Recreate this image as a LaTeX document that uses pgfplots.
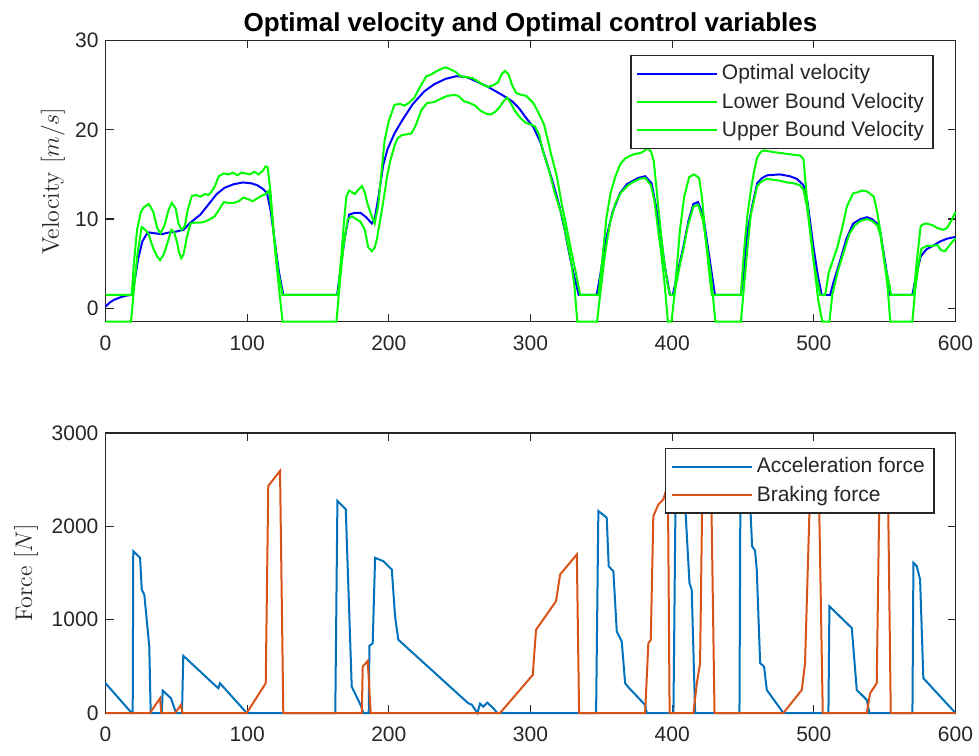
\documentclass[border=0pt]{standalone}
\usepackage[no-math]{fontspec}
\setmainfont{Liberation Sans}
\newfontfamily\lmr{Latin Modern Roman}
\usepackage{pgfplots}
\pgfplotsset{compat=1.18}

\definecolor{mblue}{rgb}{0,0.447,0.741}
\definecolor{morange}{rgb}{0.85,0.325,0.098}
\definecolor{axgray}{rgb}{0.15,0.15,0.15}

\pgfplotsset{
 myaxis/.style={
  scale only axis, width=425pt, xmin=0, xmax=600, xtick={0,100,...,600},
  tick align=inside, major tick length=4pt,
  axis line style={axgray, line width=0.6pt}, tick style={axgray, line width=0.6pt},
  ticklabel style={font=\fontsize{10.5}{12}\selectfont, text=axgray},
  xticklabel style={yshift=-3.5pt},
  /pgf/number format/assume math mode=true,
  /pgf/number format/1000 sep={},
  scaled y ticks=false,
  clip=false,
  legend cell align=left,
  legend image code/.code={\draw[##1] (0pt,0pt) -- (40pt,0pt);},
  legend style={draw=axgray, line width=0.6pt, fill=white, font=\fontsize{10.5}{12}\selectfont, text=black!85, inner xsep=2.5pt, inner ysep=2.5pt, row sep=1pt, anchor=north east},
  ylabel style={font=\lmr\fontsize{12}{14}\selectfont, text=axgray, anchor=center},
 }
}

\begin{document}
\begin{tikzpicture}
\useasboundingbox (0,0) rectangle (489.5pt,-377.5pt);

\begin{axis}[myaxis, at={(52.75pt,-160.85pt)}, anchor=south west, height=140.6pt,
  ymin=-1.5, ymax=30, ytick={0,10,20,30},
  title={Optimal velocity and Optimal control variables},
  title style={font=\bfseries\fontsize{13}{15}\selectfont, at={(axis description cs:0.5,1)}, anchor=base, yshift=-1.75pt},
  ylabel={Velocity $[m/s]$},
  ylabel style={at={(axis description cs:-0.0618,0.5)}},
  legend style={at={(axis description cs:1,1)}, xshift=-11pt, yshift=-7.25pt},
]
\addplot[blue, line width=1pt] coordinates {
(0,0.2) (3,0.65) (6,0.95) (10,1.2) (14,1.4) (18.5,1.5) (20.5,3.0) (23,5.5) (26,7.5) (29,8.3) (30.5,8.5) (35,8.4) (39.5,8.3) (45,8.5) (50,8.6) (55,8.8) (60,9.6) (67,10.5) (73,11.7) (78.5,12.8) (84,13.5) (90.5,13.9) (97,14.1) (103,14.0) (107,13.8) (111,13.4) (114,12.9) (116.5,11.0) (119.5,7.5) (122.5,4.0) (125.5,1.5)
(163.5,1.5) (166,4.5) (169,8) (172,10.5) (176,10.7) (180,10.7) (184,10.2) (188,9.5) (190,10.0) (193,12.8) (196,16.0) (199,17.8) (204,19.6) (210,21.2) (217,22.9) (225,24.3) (232,25.1) (240,25.7) (247.5,26.0) (255,25.9) (263.5,25.3) (270,24.8) (280,23.9) (287,23.2) (292,22.4) (297,21.3) (302,20.3) (307,18.6) (311.5,16.3) (316,14.0) (320.5,11.4) (324.5,8.5) (328,5.6) (331,3.5) (334,1.5)
(346.7,1.5) (349,3.5) (353.6,8.0) (358,10.8) (363.2,12.9) (368,13.9) (372.5,14.3) (376,14.6) (380.9,14.8) (385.5,14.0) (388.5,11.5) (391.4,8.8) (395,4.5) (398.4,1.5) (400.5,1.5) (403.5,3.8) (407.9,6.9) (411.5,9.8) (415,11.7) (418.3,11.9) (422,10.3) (426,6.0) (430.2,1.5)
(448.5,1.5) (451,4.5) (453,8.5) (456.5,11.5) (460,14.0) (463.5,14.6) (467,14.9) (476,15.0) (483,14.8) (488,14.5) (492.7,13.8) (495.5,12.0) (499.7,6.9) (503,3.5) (505.6,1.5) (511.5,1.5) (514,3.0) (518.7,5.4) (523,7.8) (527.8,9.5) (533,10.0) (537.5,10.2) (541,10.0) (544.7,9.5) (547,8.5) (550,5.5) (554,1.5)
(569.5,1.5) (572,3.5) (575.4,5.8) (579.4,6.6) (584,7.0) (589.3,7.5) (594,7.8) (600,8.0)};
\addlegendentry{Optimal velocity}
\addplot[green, line width=1pt] coordinates {
(0,-1.5) (18,-1.5) (20,2) (22.5,6) (25.5,9.1) (28,8.8) (30.5,8.3) (32,7.5) (34,6.6) (36.5,5.8) (38.5,5.4) (41,6) (43.5,7.2) (46.5,8.8) (48.5,8.5) (50.5,7.4) (52,6.2) (53.5,5.6) (55,6) (57.5,8.0) (60,9.5) (63,9.6) (67,9.6) (70,9.7) (74,10.0) (77,10.3) (80,11.0) (83.5,11.9) (87,11.8) (90.5,11.8) (94,12.0) (97.5,12.4) (101,12.2) (104,12.0) (107,12.3) (110,12.6) (113,12.8) (115.5,13.2) (117.5,10.5) (120,6) (123,1.5) (125,-1.5)
(163,-1.5) (165.5,3) (168,7) (171,10.0) (174,10.3) (177,10.0) (180,9.7) (183,8.8) (185.5,6.8) (188,6.4) (190,6.8) (191.5,7.7) (194,10) (196.5,12.4) (199,15) (201,16.5) (204,18.2) (206,19.0) (209,19.4) (213,19.5) (216,19.6) (219,20.5) (223,22.2) (227,23.0) (232,23.1) (237,23.5) (241.5,23.8) (246,23.9) (249,23.8) (253,23.2) (257,23.0) (261,22.7) (265,22.1) (269,21.8) (272,21.7) (275,22.0) (278,22.5) (281,23.2) (283.5,23.6) (286,23.0) (289,22.1) (293,21.3) (296.5,20.8) (300,20.6) (303,20.4) (306,19.5) (309,17.5) (313,15.5) (317,13) (322.5,10.2) (326.5,7.0) (328.5,5.4) (331,2.5) (333,-1.5)
(347,-1.5) (349.5,2) (352.5,6) (356,9.5) (360,11.8) (364,13.0) (369,13.8) (373,14.2) (377,14.5) (381,14.6) (385,13.8) (387.5,12.0) (389.5,9.5) (392,6.5) (394.5,3) (397,-1.5) (399.5,-1.5) (402,2) (405,4.5) (408,6.7) (411,9.2) (415,11.4) (418.3,11.6) (421.5,10.0) (424.5,7) (427.5,3.5) (430.5,-1.5)
(448.5,-1.5) (451,3) (453,6.5) (455.5,10.5) (460,13.7) (463,14.2) (467,14.5) (471,14.4) (476,14.3) (481,14.1) (486,14.0) (490,13.8) (492.7,13.3) (495,11.5) (498,8) (500.5,4.5) (503,1) (506,-1.5) (511,-1.5) (513,1.5) (517,4.2) (521.5,6.5) (525,8.3) (529,9.3) (533,9.8) (537.5,10.0) (541,9.8) (544.7,9.3) (547,8.2) (550,5.0) (552,2.5) (554,-1.5)
(569.5,-1.5) (571.5,2.0) (574,5.0) (576,6.7) (580,7.0) (584,7.0) (587,7.1) (590,6.5) (592.5,6.4) (595,6.9) (598,7.5) (600,7.8)};
\addlegendentry{Lower Bound Velocity}
\addplot[green, line width=1pt] coordinates {
(0,1.5) (18.5,1.5) (20,5) (22.3,8.8) (25,10.8) (27,11.3) (30.5,11.7) (33.8,10.8) (36.5,9) (38.8,8.4) (41.5,9.2) (44.5,11) (46.8,11.8) (49.5,11.2) (51.5,9.5) (53.7,8.8) (56,9.2) (58,11) (61,12.6) (64,12.7) (67,12.5) (70,12.8) (72.5,12.7) (74,12.9) (77,13.6) (80,14.8) (83.5,15.1) (87,15.0) (90,15.2) (93,14.9) (96,15.2) (99,15.1) (102,15.0) (105,15.3) (108,15.0) (111,15.4) (113,15.9) (114.5,15.8) (116.5,13) (119,8) (122,4) (125,1.5)
(164,1.5) (166.5,6) (168.5,10) (170,12.5) (172,13.2) (174,13.0) (176,12.8) (178.5,13.3) (181,13.7) (183,13.0) (185,11.7) (187.5,10.5) (190,9.5) (192.5,11.5) (195,15.5) (197,18.8) (200,21.0) (204,22.8) (208,22.9) (211,22.7) (214,23.0) (218,23.6) (222,24.8) (226.5,26.0) (230,26.2) (233,26.5) (237,26.8) (240,27.0) (243,26.8) (247,26.5) (250.5,26.0) (255,25.9) (259,25.8) (263,25.4) (267,25.0) (270,24.8) (274,25.0) (277,25.3) (279.5,26.2) (282,26.6) (284.5,26.2) (287,25.0) (290,24.1) (294,23.9) (297,23.8) (302,23.0) (306,21.8) (309.5,20.6) (312,19.0) (314.5,17.3) (318.7,14.7) (322,11.7) (325,9.5) (328,7.0) (332,4.0) (335,1.5)
(348,1.5) (351,6) (353.5,10) (356.5,12.9) (360,14.8) (363.5,16.2) (367,16.8) (370.5,17.1) (374,17.3) (378,17.4) (382.5,17.9) (385,17.6) (387,16.5) (389.5,12.5) (392,8.5) (394.5,5.0) (397,2.5) (398.5,1.5) (401.5,1.5) (403.5,5) (405.5,8.8) (408.5,12.5) (412,14.7) (415.5,15.0) (419,14.6) (421,12.5) (423.5,8) (426.5,3.5) (428,1.5)
(448.5,1.5) (450.5,6) (453,10.3) (455.5,13.2) (458,15.5) (460,16.9) (462.5,17.5) (464.5,17.7) (468,17.6) (471.5,17.5) (476,17.4) (481,17.3) (486,17.2) (490.5,17.1) (492.7,16.7) (495,12.5) (497.5,8.5) (500,5.0) (504.5,1.5) (508,1.5) (510.5,4) (516.7,6.9) (520,9) (523.3,11.4) (527.8,12.9) (531,13.0) (534,13.2) (537.5,13.1) (540,12.8) (542.3,12.5) (544.5,11) (546.8,8.8) (550,5) (553.5,2.5) (554.5,1.5)
(570.5,1.5) (572.5,5) (575.4,9.2) (577,9.4) (579.4,9.5) (584,9.3) (587,9.0) (591.5,8.8) (594,9.0) (597,9.8) (600,10.8)};
\addlegendentry{Upper Bound Velocity}
\end{axis}

\begin{axis}[myaxis, at={(52.75pt,-356.5pt)}, anchor=south west, height=140pt,
  ymin=0, ymax=3000, ytick={0,1000,2000,3000},
  ylabel={Force $[N]$},
  ylabel style={at={(axis description cs:-0.0935,0.5)}},
  legend style={at={(axis description cs:1,1)}, xshift=-10.5pt, yshift=-7.5pt},
]
\addplot[mblue, line width=1pt] coordinates {
(0,319) (18.5,0) (19.2,0) (19.6,1734) (24.4,1663) (25.6,1322) (27.4,1268) (30.9,713) (31.9,0) (39.7,0) (40.4,240) (46.2,158) (49.8,0) (54.0,0) (54.9,613) (79.6,265) (80.8,319) (99.7,0)
(162.2,0) (163.7,2272) (169.6,2182) (173.8,283) (180.4,75) (182.0,0) (185.8,0) (186.3,720) (188.6,745) (190.3,1663) (196.1,1627) (202.1,1537) (204.4,1035) (206.7,785) (256.1,104) (258.5,90) (262.5,0) (264.4,100) (266.7,68) (269.5,111) (273.8,50) (276.6,0)
(346.3,0) (347.9,2164) (353.8,2093) (355.2,1573) (358.5,1519) (360.9,874) (364.4,767) (366.8,319) (369.1,276) (380.9,86) (382.1,0)
(400.9,0) (402.5,2500) (408.5,2420) (412.2,1394) (413.8,1322) (416.2,0)
(447.5,0) (448.2,2500) (454.5,2450) (456.4,1788) (458.5,1740) (459.7,1537) (462.1,534) (464.9,498) (466.8,247) (478.5,0)
(510.3,0) (511.0,1143) (526.8,910) (530.3,247) (537.4,140) (539.2,0)
(569.6,0) (570.3,1609) (572.7,1573) (575.0,1430) (577.3,373) (600,0)};
\addlegendentry{Acceleration force}
\addplot[morange, line width=1pt] coordinates {
(0,0) (31.4,0) (38.5,158) (39.4,0) (49.1,0) (53.3,86) (54.2,0) (99.7,0) (113.1,319) (114.9,2433) (123.2,2594) (125.5,0)
(180.9,0) (181.6,498) (185.1,559) (187.2,0) (278.5,0) (301.6,408) (303.9,892) (318.0,1197) (320.9,1484) (332.7,1699) (334.3,0)
(380.9,0) (383.2,749) (384.9,785) (386.7,2110) (390.3,2236) (393.8,2290) (396,2400) (397,2400) (398.2,0)
(415.0,0) (417.4,319) (419.7,534) (421.1,2160) (422,2500) (427.5,2450) (429.9,0)
(478.5,0) (491.5,247) (493.8,534) (496.9,2160) (498,2500) (503.5,2450) (506.3,0)
(537.4,0) (539.7,211) (544.4,319) (546.1,2160) (547,2500) (552.3,2450) (554.3,0) (600,0)};
\addlegendentry{Braking force}
\end{axis}
\end{tikzpicture}
\end{document}
